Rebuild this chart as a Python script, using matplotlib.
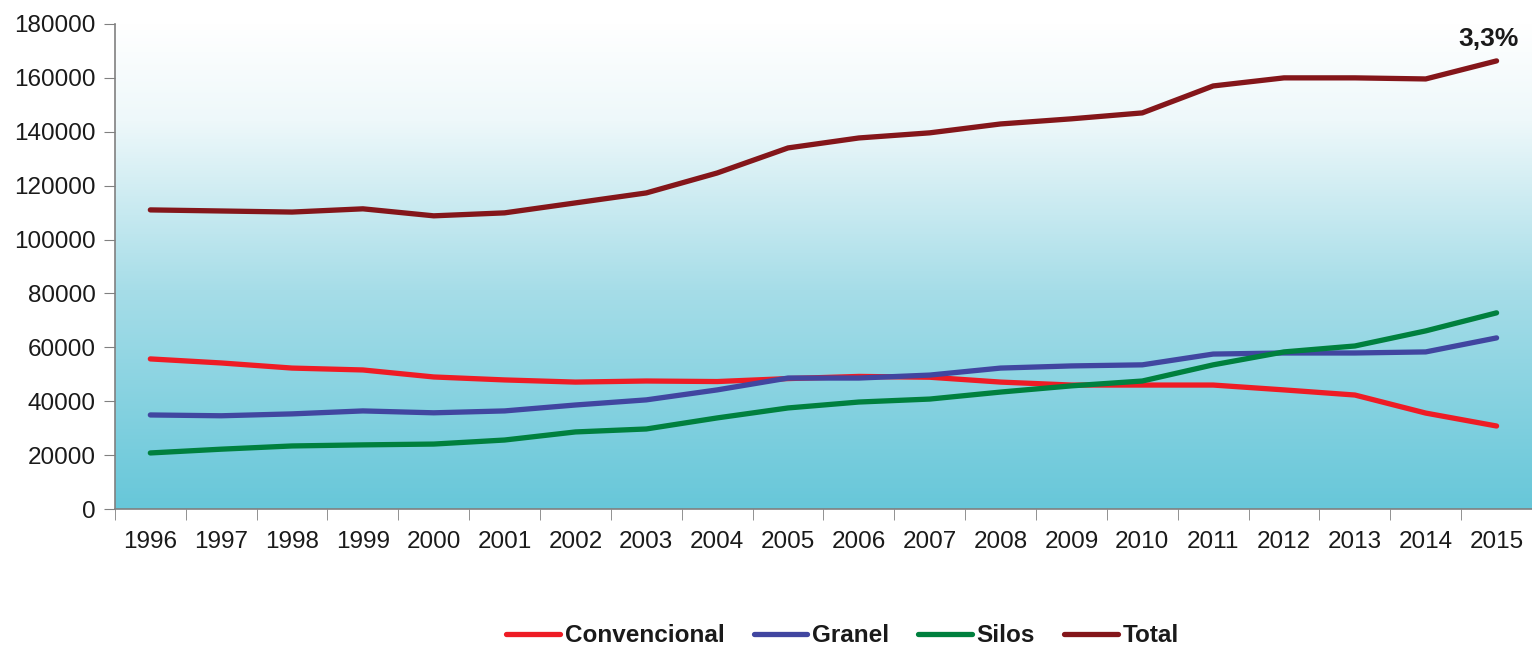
import numpy as np
import matplotlib.pyplot as plt
from matplotlib.colors import LinearSegmentedColormap

years = ["1996", "1997", "1998", "1999", "2000", "2001", "2002", "2003", "2004", "2005",
         "2006", "2007", "2008", "2009", "2010", "2011", "2012", "2013", "2014", "2015"]

convencional = [55700, 54200, 52300, 51600, 49000, 47900, 47100, 47500, 47300, 48400,
                49200, 48900, 47100, 46000, 46000, 46000, 44200, 42300, 35600, 30800]
granel = [34900, 34600, 35300, 36400, 35700, 36400, 38600, 40500, 44200, 48600,
          48600, 49700, 52300, 53100, 53500, 57500, 57900, 57900, 58300, 63500]
silos = [20800, 22200, 23400, 23800, 24100, 25600, 28600, 29700, 33800, 37500,
         39700, 40800, 43400, 45700, 47500, 53500, 58300, 60500, 66100, 72800]
total = [111000, 110600, 110200, 111400, 108800, 109900, 113600, 117300, 124700, 134000,
         137700, 139600, 142900, 144800, 147000, 157000, 160000, 160000, 159600, 166300]

plt.rcParams['font.family'] = ['Liberation Sans', 'DejaVu Sans']

fig = plt.figure(figsize=(15.32, 6.48), dpi=100)
ax = fig.add_axes([0.075, 0.2145, 0.925, 0.7485])

x = np.arange(len(years))

# gradient background
cmap = LinearSegmentedColormap.from_list(
    "bg", [(0.0, "#67c7d9"), (0.45, "#a6dde8"), (0.8, "#eef8fa"), (1.0, "#ffffff")])
grad = np.linspace(0, 1, 256).reshape(-1, 1)
ax.imshow(grad, cmap=cmap, aspect="auto", origin="lower",
          extent=[-0.5, len(years) - 0.5, 0, 180000], zorder=0)

lw = 3.8
ax.plot(x, convencional, color="#ee1c25", lw=lw, solid_capstyle="round", label="Convencional", zorder=3)
ax.plot(x, granel, color="#4146a0", lw=lw, solid_capstyle="round", label="Granel", zorder=3)
ax.plot(x, silos, color="#00803e", lw=lw, solid_capstyle="round", label="Silos", zorder=3)
ax.plot(x, total, color="#84161a", lw=lw, solid_capstyle="round", label="Total", zorder=3)

ax.set_xlim(-0.5, len(years) - 0.5)
ax.set_ylim(0, 180000)
ax.set_yticks(np.arange(0, 180001, 20000))
ax.set_xticks(x)
ax.set_xticklabels(years)
ax.set_xticks(np.arange(-0.5, len(years), 1), minor=True)
ax.tick_params(axis="x", which="major", length=0, pad=16, labelsize=17.5, colors="#1a1a1a")
ax.tick_params(axis="x", which="minor", length=8, color="#808080", direction="out")
ax.tick_params(axis="y", length=8, color="#808080", direction="out", labelsize=17.5,
               labelcolor="#1a1a1a", pad=6)

for s in ["top", "right"]:
    ax.spines[s].set_visible(False)
for s in ["left", "bottom"]:
    ax.spines[s].set_color("#808080")
    ax.spines[s].set_linewidth(1.2)

ax.annotate("3,3%", xy=(x[-1], total[-1]), xytext=(-6, 7), textcoords="offset points",
            ha="center", va="bottom", fontsize=19, fontweight="bold", color="#1a1a1a")

leg = fig.legend(loc="center", bbox_to_anchor=(0.55, 0.019), ncol=4, frameon=False,
                 handlelength=2.2, handletextpad=0.2, columnspacing=1.2,
                 prop={"family": ["Liberation Sans Narrow", "Liberation Sans"],
                       "weight": "bold", "size": 17.5})
for t in leg.get_texts():
    t.set_color("#1a1a1a")

fig.savefig("out.png", dpi=100)
